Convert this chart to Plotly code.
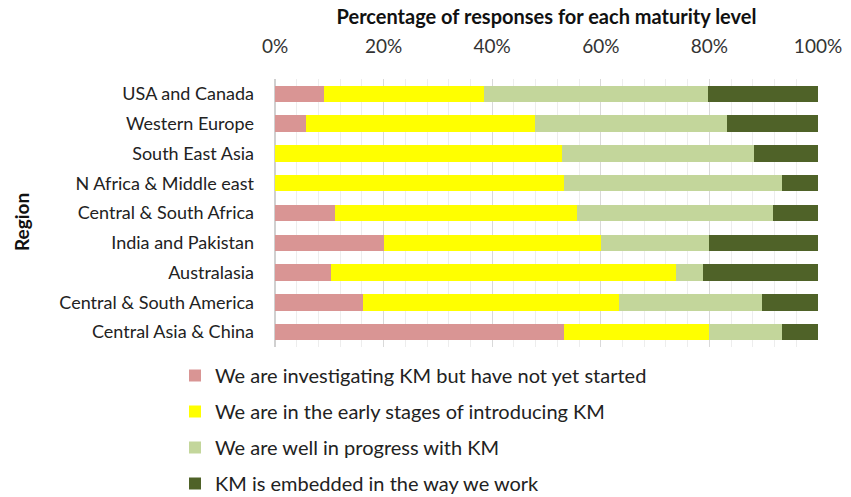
import plotly.graph_objects as go

regions = [
    "USA and Canada",
    "Western Europe",
    "South East Asia",
    "N Africa & Middle east",
    "Central & South Africa",
    "India and Pakistan",
    "Australasia",
    "Central & South America",
    "Central Asia & China",
]

investigating = [9.1, 5.7, 0.0, 0.0, 11.1, 20.0, 10.4, 16.2, 53.3]
early_stages = [29.4, 42.1, 52.9, 53.3, 44.6, 40.0, 63.4, 47.2, 26.7]
in_progress = [41.3, 35.5, 35.4, 40.1, 36.0, 20.0, 5.1, 26.3, 13.3]
embedded = [20.2, 16.7, 11.7, 6.6, 8.3, 20.0, 21.1, 10.3, 6.7]

series_names = [
    "We are investigating KM but have not yet started",
    "We are in the early stages of introducing KM",
    "We are well in progress with KM",
    "KM is embedded in the way we work",
]
series_values = [investigating, early_stages, in_progress, embedded]
series_colors = ["#D99594", "#FFFF00", "#C3D69B", "#4F6228"]

x_ticks = [0, 20, 40, 60, 80, 100]

FONT = "Lato, 'Open Sans', sans-serif"
W, H = 851, 497
ML, MR, MT, MB = 275, 33, 79, 150
PW, PH = W - ML - MR, H - MT - MB

fig = go.Figure()
for i, (name, vals, col) in enumerate(zip(series_names, series_values, series_colors)):
    fig.add_trace(go.Bar(
        y=regions,
        x=vals,
        name=name,
        orientation="h",
        marker=dict(color=col, line=dict(width=0)),
        legendgroup=f"g{i}",
    ))

# rotated axis title on the left
fig.add_annotation(
    text="<b>Region</b>",
    xref="paper", yref="paper",
    x=(22 - ML) / PW, y=(H - MB - 222) / PH,
    xanchor="center", yanchor="middle",
    textangle=-90,
    showarrow=False,
    font=dict(size=19, family=FONT, color="#111111"),
)

fig.update_layout(
    width=W,
    height=H,
    barmode="stack",
    bargap=0.45,
    plot_bgcolor="white",
    paper_bgcolor="white",
    margin=dict(l=ML, r=MR, t=MT, b=MB, autoexpand=False),
    font=dict(family=FONT, color="#222222"),
    showlegend=True,
    legend=dict(
        xref="container", yref="container",
        x=175 / W, xanchor="left",
        y=1 - 356 / H, yanchor="top",
        font=dict(size=20, family=FONT, color="#222222"),
        tracegroupgap=7,
        traceorder="grouped",
        bgcolor="rgba(0,0,0,0)",
    ),
    xaxis=dict(
        side="top",
        range=[0, 100],
        tickvals=x_ticks,
        ticktext=[f"{v}%" for v in x_ticks],
        tickfont=dict(size=19, family=FONT, color="#333333"),
        showgrid=True,
        gridcolor="#D9D9D9",
        gridwidth=1,
        minor=dict(dtick=4, showgrid=True, gridcolor="#EDEDED", gridwidth=1),
        zeroline=True,
        zerolinecolor="#D0D0D0",
        showline=False,
        ticks="",
        ticklabelstandoff=21,
        automargin=False,
        fixedrange=True,
        title=dict(
            text="<b>Percentage of responses for each maturity level</b>",
            font=dict(size=20, family=FONT, color="#111111"),
            standoff=4,
        ),
    ),
    yaxis=dict(
        autorange="reversed",
        tickfont=dict(size=18, family=FONT, color="#222222"),
        ticklabelstandoff=20,
        showgrid=False,
        showline=False,
        ticks="",
        automargin=False,
        fixedrange=True,
    ),
)

fig.write_html("out.html")
